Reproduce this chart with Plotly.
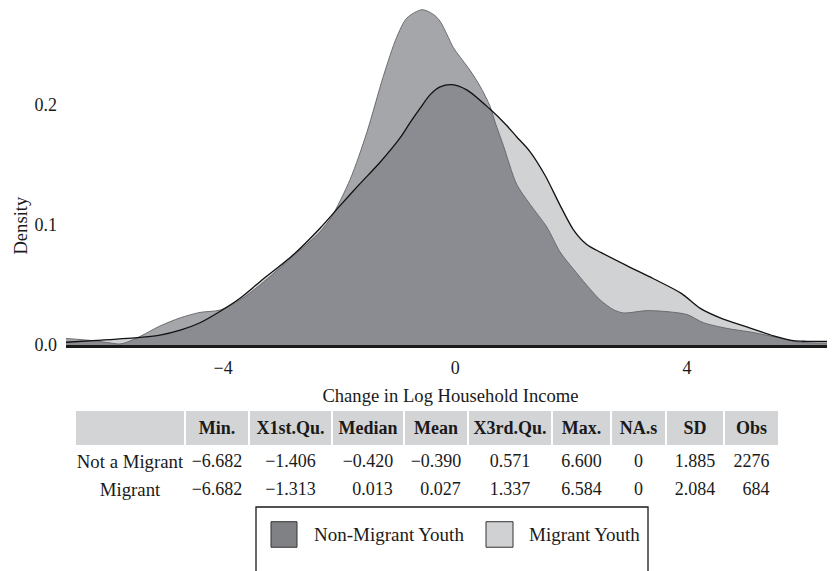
import plotly.graph_objects as go

# ---------------- data ----------------
# Density of change in log household income, Non-Migrant youth
x_nm = [-6.71, -6.24, -5.95, -5.78, -5.66, -5.43, -5.09, -4.74, -4.40, -4.05, -3.71, -3.36,
        -2.79, -2.33, -2.13, -1.81, -1.52, -1.24, -1.01, -0.83, -0.57, -0.37, -0.26, -0.14,
        -0.03, 0.09, 0.26, 0.43, 0.60, 0.69, 0.83, 1.06, 1.29, 1.58, 1.81, 2.04, 2.27, 2.50,
        2.73, 2.90, 3.31, 3.71, 4.00, 4.28, 4.68, 5.14, 5.60, 5.95, 6.55]
d_nm = [0.0054, 0.0035, 0.0016, 0.0008, 0.0022, 0.0071, 0.0157, 0.0225, 0.0270, 0.0290, 0.0374, 0.0500,
        0.0740, 0.0940, 0.1065, 0.1376, 0.1770, 0.2230, 0.2555, 0.2718, 0.2786, 0.2745, 0.2690, 0.2580,
        0.2470, 0.2390, 0.2280, 0.2150, 0.1986, 0.1850, 0.1660, 0.1336, 0.1170, 0.0980, 0.0772, 0.0630,
        0.0496, 0.0374, 0.0293, 0.0266, 0.0285, 0.0274, 0.0252, 0.0185, 0.0138, 0.0103, 0.0057, 0.0022,
        0.0016]

# Density of change in log household income, Migrant youth
x_m = [-6.71, -6.10, -5.43, -5.09, -4.74, -4.40, -4.05, -3.71, -3.36, -2.79, -2.33, -1.98,
       -1.64, -1.29, -0.95, -0.78, -0.60, -0.43, -0.26, -0.06, 0.20, 0.60, 0.89, 1.06, 1.29,
       1.55, 1.81, 2.04, 2.27, 2.52, 2.96, 3.42, 3.90, 4.22, 4.57, 5.03, 5.49, 5.83, 6.06, 6.55]
d_m = [0.0022, 0.0040, 0.0063, 0.0081, 0.0122, 0.0184, 0.0280, 0.0388, 0.0528, 0.0750, 0.0970, 0.1160,
       0.1340, 0.1520, 0.1720, 0.1845, 0.1970, 0.2080, 0.2144, 0.2163, 0.2120, 0.1960, 0.1823, 0.1730, 0.1607,
       0.1410, 0.1160, 0.0957, 0.0835, 0.0767, 0.0659, 0.0550, 0.0428, 0.0306, 0.0225, 0.0149, 0.0076,
       0.0035, 0.0030, 0.0030]

series_names = ["Non-Migrant Youth", "Migrant Youth"]

x_ticks = [-4, 0, 4]
y_ticks = [0.0, 0.1, 0.2]

# summary table
table_header = ["", "Min.", "X1st.Qu.", "Median", "Mean", "X3rd.Qu.", "Max.", "NA.s", "SD", "Obs"]
row_labels = ["Not a Migrant", "Migrant"]
min_vals = [-6.682, -6.682]
q1_vals = [-1.406, -1.313]
median_vals = [-0.420, 0.013]
mean_vals = [-0.390, 0.027]
q3_vals = [0.571, 1.337]
max_vals = [6.600, 6.584]
na_vals = [0, 0]
sd_vals = [1.885, 2.084]
obs_vals = [2276, 684]

# ---------------- helpers ----------------
FONT = "Liberation Serif"
TXT = "#1a1a1a"
W, H = 827, 563   # page body has an 8px margin
OFF = 8


def fmt_col(vals, decimals=3):
    strs = []
    for v in vals:
        s = f"{v:.{decimals}f}" if decimals else f"{int(v)}"
        strs.append(s.replace("-", "\u2212"))
    n = max(len(s) for s in strs)
    return ["\u2007" * (n - len(s)) + s for s in strs]


def fx(x):
    return (x - OFF) / W


def fy(y):
    return 1 - (y - OFF) / H


fig = go.Figure()

SPL = dict(shape="spline", smoothing=0.8)
# migrant fill (opaque light gray)
fig.add_trace(go.Scatter(x=x_m, y=d_m, mode="lines", fill="tozeroy",
                         fillcolor="rgb(209,210,212)", line=dict(width=0, **SPL),
                         showlegend=False, hoverinfo="skip"))
# non-migrant fill (translucent dark)
fig.add_trace(go.Scatter(x=x_nm, y=d_nm, mode="lines", fill="tozeroy", name=series_names[0],
                         fillcolor="rgba(48,50,60,0.435)",
                         line=dict(color="#626367", width=0.9, **SPL),
                         showlegend=False))
# migrant outline
fig.add_trace(go.Scatter(x=x_m, y=d_m, mode="lines", name=series_names[1],
                         line=dict(color="#111111", width=1.3, **SPL),
                         showlegend=False))

# table
cells = [[s.replace(" ", "\u00a0") for s in row_labels],
         fmt_col(min_vals), fmt_col(q1_vals), fmt_col(median_vals), fmt_col(mean_vals),
         fmt_col(q3_vals), fmt_col(max_vals), fmt_col(na_vals, 0), fmt_col(sd_vals), fmt_col(obs_vals, 0)]
fig.add_trace(go.Table(
    domain=dict(x=[fx(75), fx(779)], y=[fy(512), fy(417)]),
    columnwidth=[110, 64, 83, 72, 64, 84, 59, 55, 58, 55],
    header=dict(values=[f"<b>{h}</b>" if h else "" for h in table_header],
                fill_color="#d3d4d6", line=dict(color="white", width=2),
                align="center", height=34,
                font=dict(family=FONT, size=18, color=TXT)),
    cells=dict(values=cells, fill_color="white", line=dict(color="white", width=2),
               align="center", height=28,
               font=dict(family=FONT, size=[18.8] + [18] * 9, color=TXT)),
))

# custom legend (box, swatches and labels)
shapes = [
    dict(type="rect", xref="paper", yref="paper", x0=fx(256), x1=fx(648), y0=fy(516), y1=-0.1,
         line=dict(color="#1a1a1a", width=1.3), fillcolor="rgba(0,0,0,0)", layer="above"),
    dict(type="rect", xref="paper", yref="paper", x0=fx(271), x1=fx(297), y0=fy(531), y1=fy(557),
         line=dict(color="#333333", width=1), fillcolor="#808185"),
    dict(type="rect", xref="paper", yref="paper", x0=fx(486), x1=fx(513), y0=fy(531), y1=fy(557),
         line=dict(color="#333333", width=1), fillcolor="#d0d1d3"),
]
annotations = [
    dict(text=series_names[0], xref="paper", yref="paper", x=fx(312), y=fy(544),
         xanchor="left", yanchor="middle", showarrow=False, font=dict(family=FONT, size=19, color=TXT)),
    dict(text=series_names[1], xref="paper", yref="paper", x=fx(527), y=fy(544),
         xanchor="left", yanchor="middle", showarrow=False, font=dict(family=FONT, size=19, color=TXT)),
    dict(text="Density", xref="paper", yref="paper", x=fx(20.5), y=fy(229), textangle=-90,
         xanchor="center", yanchor="middle", showarrow=False, borderpad=0,
         font=dict(family=FONT, size=18.6, color=TXT)),
]

fig.update_layout(
    width=W, height=H,
    margin=dict(l=0, r=0, t=0, b=0),
    paper_bgcolor="white", plot_bgcolor="white",
    font=dict(family=FONT, size=18, color=TXT),
    shapes=shapes, annotations=annotations,
    xaxis=dict(domain=[fx(66), 1], range=[-6.71, 6.55], tickvals=x_ticks,
               showgrid=False, zeroline=False, showline=True, linecolor="#1a1a1a", linewidth=3,
               ticks="", ticklabelstandoff=4, tickfont=dict(size=18),
               title=dict(text="Change in Log Household Income", font=dict(size=18.6), standoff=13)),
    yaxis=dict(domain=[fy(351), 1], range=[0, 0.2800], tickvals=y_ticks, tickformat=".1f",
               showgrid=False, zeroline=False, showline=False, ticks="", ticklabelstandoff=8,
               tickfont=dict(size=18)),
)

fig.write_html("out.html")
